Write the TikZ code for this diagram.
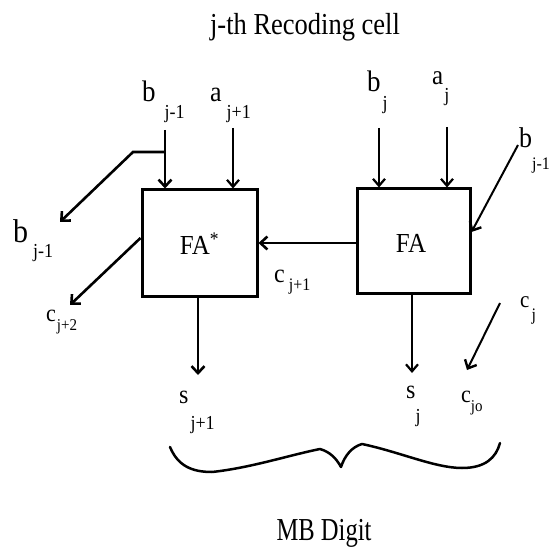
\documentclass[tikz,border=0pt]{standalone}
\usepackage{fontspec}
\setmainfont{Liberation Serif}
\usetikzlibrary{arrows.meta}
\newcommand{\lab}[6]{\scalebox{1}[1.1]{{\fontsize{#1}{#1}\selectfont #2}\hspace{#5pt}\raisebox{-#6pt}{\fontsize{#3}{#3}\selectfont #4}}}
\begin{document}
\begin{tikzpicture}[x=1pt,y=-1pt,
  box/.style={draw,line width=3pt,minimum width=#1,inner sep=0pt},
  lbl/.style={anchor=base west,inner sep=0pt},
  thk/.style={line width=2.6pt,-{Straight Barb[length=7pt,width=13pt,line width=2.6pt]}},
  thn/.style={line width=1.8pt,-{Straight Barb[length=7pt,width=12pt,line width=2.2pt]}},
  mid/.style={line width=2pt,-{Straight Barb[length=7pt,width=13pt,line width=2.4pt]}}]
\useasboundingbox (0,0) rectangle (552,548);
% title
\node[anchor=base,inner sep=0pt,font=\fontsize{26.5}{26.5}\selectfont] (title) at (305,35) {\scalebox{1}[1.15]{j-th Recoding cell}};
% boxes
\node[box=115pt,minimum height=107pt] (fastar) at (199.5,243.5) {};
\node[box=113pt,minimum height=105pt] (fa) at (413.5,241.5) {};
\node[anchor=base,inner sep=0pt,font=\fontsize{25}{25}\selectfont] (fastartxt) at (199.5,255) {\scalebox{1}[1.1]{FA\textsuperscript{*}}};
\node[anchor=base,inner sep=0pt,font=\fontsize{25}{25}\selectfont] (fatxt) at (411,253) {\scalebox{1}[1.1]{FA}};
% labels
\node[lbl] (lbjm1) at (142,102) {\lab{27}{b}{18}{j-1}{9}{15}};
\node[lbl] (lajp1) at (210,102) {\lab{26}{a}{18}{j+1}{5}{15}};
\node[lbl] (lbjm1l) at (13,243) {\lab{30}{b}{18}{j-1}{5}{13}};
\node[lbl] (lcjp2) at (46,322) {\lab{22}{c}{15}{j+2}{1}{8}};
\node[lbl] (lcjp1) at (274,283) {\lab{24}{c}{16}{j+1}{4}{7}};
\node[lbl] (lsjp1) at (179,403) {\lab{24}{s}{18}{j+1}{2}{24}};
\node[lbl] (lsj) at (406,398) {\lab{24}{s}{18}{j}{0}{22}};
\node[lbl] (lcjo) at (461,402) {\lab{22}{c}{15}{jo}{0}{9}};
\node[lbl] (lcj) at (520,308) {\lab{21}{c}{16}{j}{2}{11}};
\node[lbl] (lbj) at (367,92) {\lab{27}{b}{18}{j}{2}{16}};
\node[lbl] (laj) at (432,85) {\lab{25}{a}{18}{j}{1}{15}};
\node[lbl] (lbjm1r) at (519,148) {\lab{26}{b}{16}{j-1}{0}{20}};
\node[anchor=base,inner sep=0pt,font=\fontsize{24.6}{24.6}\selectfont] (mb) at (324,540) {\scalebox{1}[1.3]{MB Digit}};
% free ends
\coordinate (bin) at (165,130);
\coordinate (br) at (165,152);
\coordinate (brl) at (133,152);
\coordinate (bout) at (60,222);
\coordinate (ain) at (233,128);
\coordinate (cout) at (70,305);
\coordinate (sout1) at (198,375);
\coordinate (bjin) at (379,128);
\coordinate (ajin) at (447,127);
\coordinate (bjrin) at (518,145);
\coordinate (sout0) at (412,373);
\coordinate (cjin) at (500,303);
\coordinate (cjout) at (467,370);
% connectors
\draw[thk] (bin) -- (bin |- fastar.north);
\draw[thk] (br) -- (brl) -- (bout);
\draw[thn] (ain) -- (ain |- fastar.north);
\draw[thk] (fastar.west |- 0,238) -- (cout);
\draw[thk] (fastar.south -| sout1) -- (sout1);
\draw[thk] (fa.west |- 0,243) -- (fastar.east |- 0,243);
\draw[thn] (bjin) -- (bjin |- fa.north);
\draw[thn] (ajin) -- (ajin |- fa.north);
\draw[mid] (bjrin) -- (fa.east |- 0,232);
\draw[thn] (fa.south -| sout0) -- (sout0);
\draw[mid] (cjin) -- (cjout);
% brace
\draw[line width=2.5pt,line cap=round,line join=round] (170,447) .. controls (178,466) and (192,472) .. (212,472)
  .. controls (250,468) and (290,455) .. (320,449)
  .. controls (330,452) and (336,458) .. (341,467)
  .. controls (345,455) and (352,447) .. (362,444)
  .. controls (400,452) and (435,468) .. (462,468)
  .. controls (485,468) and (496,458) .. (500,443);
\end{tikzpicture}
\end{document}
